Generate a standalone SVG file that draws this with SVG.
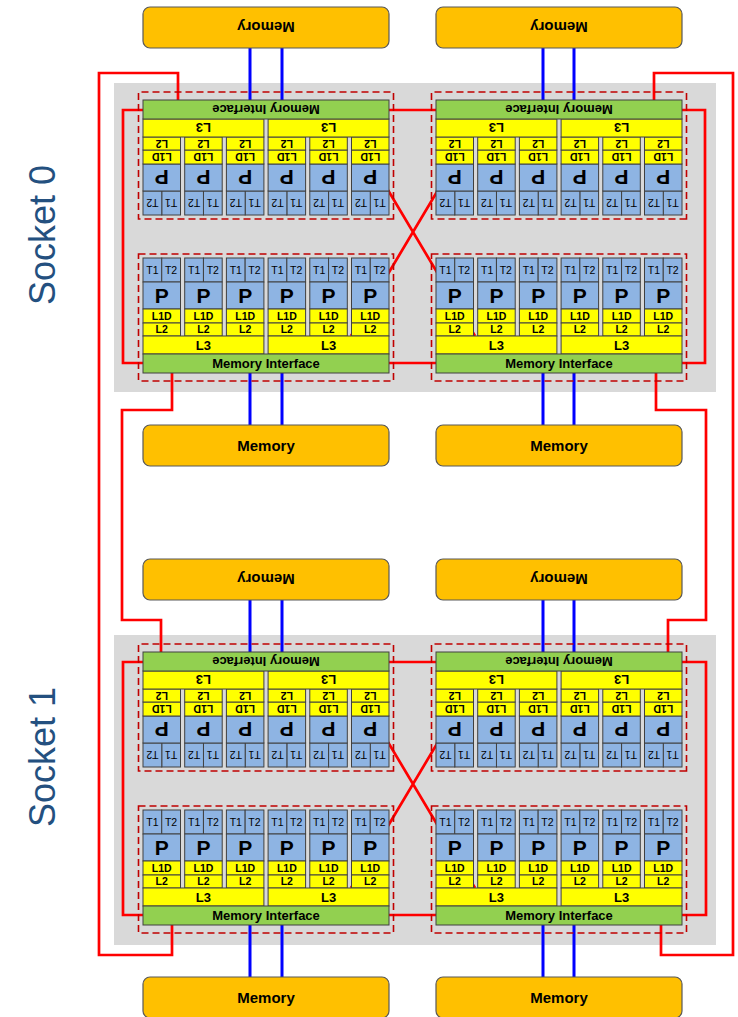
<svg xmlns="http://www.w3.org/2000/svg" xmlns:xlink="http://www.w3.org/1999/xlink" width="738" height="1017" viewBox="0 0 738 1017">
<style>
.bl{fill:#8EB4E3;stroke:#404040;stroke-width:1}
.yl{fill:#FFFF00;stroke:#404040;stroke-width:1}
.gr{fill:#92D050;stroke:#404040;stroke-width:1}
.dash{fill:none;stroke:#C00000;stroke-width:1.6;stroke-dasharray:7,4}
.mem{fill:#FFC000;stroke:#595959;stroke-width:1.2}
.red{fill:none;stroke:#FF0000;stroke-width:2.7}
.blue{fill:none;stroke:#0000FF;stroke-width:3}
.bg{fill:#D9D9D9}
text{font-family:"Liberation Sans",Arial,sans-serif;text-anchor:middle;fill:#000}
.t{font-size:10.5px}
.p{font-size:21px;font-weight:bold}
.s{font-size:10.5px;font-weight:bold}
.l3{font-size:13px;font-weight:bold}
.mi{font-size:13px;font-weight:bold}
.mt{font-size:15px;font-weight:bold}
.sk{font-size:36px;fill:#24507F}
</style>
<defs>
<g id="core">
<rect class="bl" x="0" y="0" width="18.75" height="24"/>
<rect class="bl" x="18.75" y="0" width="18.75" height="24"/>
<rect class="bl" x="0" y="24" width="37.5" height="27"/>
<rect class="yl" x="0" y="51" width="37.5" height="14"/>
<rect class="yl" x="0" y="65" width="37.5" height="13"/>
<text class="t" x="9.4" y="15.8">T1</text>
<text class="t" x="28.1" y="15.8">T2</text>
<text class="p" x="18.75" y="45">P</text>
<text class="s" x="18.75" y="61.8">L1D</text>
<text class="s" x="18.75" y="75.2">L2</text>
</g>
<g id="chip">
<rect class="dash" x="-4.5" y="-4" width="255" height="127"/>
<use xlink:href="#core" href="#core" x="0"/>
<use xlink:href="#core" href="#core" x="41.7"/>
<use xlink:href="#core" href="#core" x="83.4"/>
<use xlink:href="#core" href="#core" x="125.1"/>
<use xlink:href="#core" href="#core" x="166.8"/>
<use xlink:href="#core" href="#core" x="208.5"/>
<rect class="yl" x="0" y="78" width="120.9" height="18"/>
<rect class="yl" x="125.1" y="78" width="120.9" height="18"/>
<rect class="gr" x="0" y="96" width="246" height="19"/>
<text class="l3" x="60.45" y="91.7">L3</text>
<text class="l3" x="185.55" y="91.7">L3</text>
<text class="mi" x="123" y="110.2">Memory Interface</text>
</g>
</defs>
<rect width="738" height="1017" fill="#FFFFFF"/>
<g id="backgrounds">
<rect class="bg" x="114" y="83" width="602" height="309"/>
<rect class="bg" x="114" y="635" width="602" height="310"/>
</g>
<g id="labels">
<text class="sk" transform="translate(55,235) rotate(-90)">Socket 0</text>
<text class="sk" transform="translate(55,757) rotate(-90)">Socket 1</text>
</g>
<g id="connectors">
<path class="red" d="M389,110 H436 M389,363 H436"/>
<path class="red" d="M143,110 H123 V363 H143"/>
<path class="red" d="M682,110 H705 V363 H682"/>
<path class="red" d="M351,128 L475,336 M475,128 L351,336"/>
<path class="red" d="M389,662 H436 M389,915 H436"/>
<path class="red" d="M143,662 H123 V915 H143"/>
<path class="red" d="M682,662 H706 V915 H682"/>
<path class="red" d="M351,680 L475,888 M475,680 L351,888"/>
<path class="red" d="M178,100 V73 H99 V955 H172 V925"/>
<path class="red" d="M654,100 V73 H733 V955 H661 V925"/>
<path class="red" d="M172,373 V410 H122 V620 H161 V652"/>
<path class="red" d="M656,373 V410 H706 V620 H668 V652"/>
<path class="blue" d="M250,48 V100 M282,48 V100 M543,48 V100 M574,48 V100"/>
<path class="blue" d="M250,373 V425 M282,373 V425 M543,373 V425 M574,373 V425"/>
<path class="blue" d="M250,600 V652 M282,600 V652 M543,600 V652 M574,600 V652"/>
<path class="blue" d="M250,925 V977 M282,925 V977 M543,925 V977 M574,925 V977"/>
</g>
<g id="s0-chip-tl"><use xlink:href="#chip" href="#chip" transform="translate(389,215) rotate(180)"/></g>
<g id="s0-chip-tr"><use xlink:href="#chip" href="#chip" transform="translate(682,215) rotate(180)"/></g>
<g id="s0-chip-bl"><use xlink:href="#chip" href="#chip" transform="translate(143,258)"/></g>
<g id="s0-chip-br"><use xlink:href="#chip" href="#chip" transform="translate(436,258)"/></g>
<g id="s1-chip-tl"><use xlink:href="#chip" href="#chip" transform="translate(389,767) rotate(180)"/></g>
<g id="s1-chip-tr"><use xlink:href="#chip" href="#chip" transform="translate(682,767) rotate(180)"/></g>
<g id="s1-chip-bl"><use xlink:href="#chip" href="#chip" transform="translate(143,810)"/></g>
<g id="s1-chip-br"><use xlink:href="#chip" href="#chip" transform="translate(436,810)"/></g>
<g id="s0-mem-tl"><rect class="mem" x="143" y="7" width="246" height="41" rx="7"/><text class="mt" transform="translate(266,27.5) rotate(180)" y="5.4">Memory</text></g>
<g id="s0-mem-tr"><rect class="mem" x="436" y="7" width="246" height="41" rx="7"/><text class="mt" transform="translate(559,27.5) rotate(180)" y="5.4">Memory</text></g>
<g id="s0-mem-bl"><rect class="mem" x="143" y="425" width="246" height="41" rx="7"/><text class="mt" x="266" y="451">Memory</text></g>
<g id="s0-mem-br"><rect class="mem" x="436" y="425" width="246" height="41" rx="7"/><text class="mt" x="559" y="451">Memory</text></g>
<g id="s1-mem-tl"><rect class="mem" x="143" y="559" width="246" height="41" rx="7"/><text class="mt" transform="translate(266,579.5) rotate(180)" y="5.4">Memory</text></g>
<g id="s1-mem-tr"><rect class="mem" x="436" y="559" width="246" height="41" rx="7"/><text class="mt" transform="translate(559,579.5) rotate(180)" y="5.4">Memory</text></g>
<g id="s1-mem-bl"><rect class="mem" x="143" y="977" width="246" height="41" rx="7"/><text class="mt" x="266" y="1003">Memory</text></g>
<g id="s1-mem-br"><rect class="mem" x="436" y="977" width="246" height="41" rx="7"/><text class="mt" x="559" y="1003">Memory</text></g>
</svg>
